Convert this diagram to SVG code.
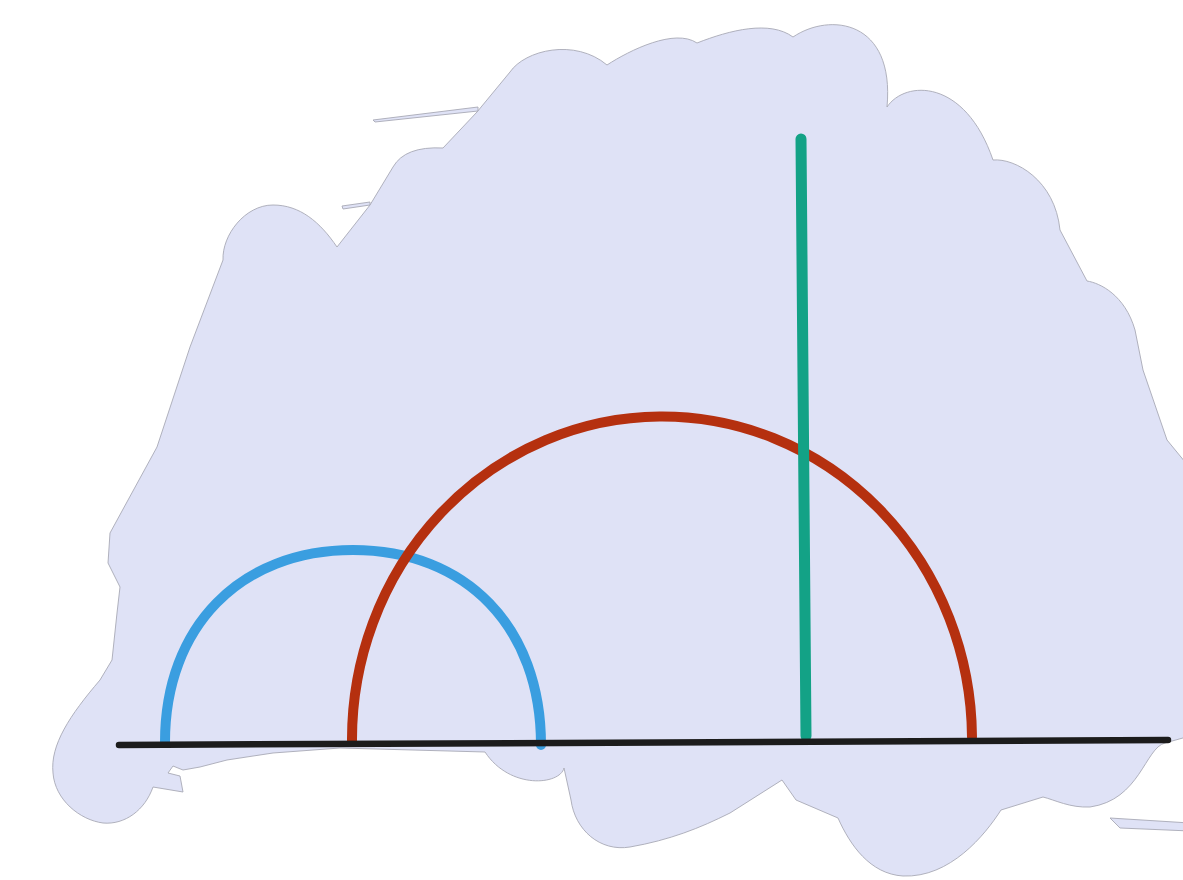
<svg xmlns="http://www.w3.org/2000/svg" width="1183" height="880" viewBox="0 0 1183 880">
  <style>
    .wash { fill: #dfe2f6; stroke: #a8a9b6; stroke-width: 0.9; stroke-linejoin: round; }
    .stroke { fill: none; stroke-linecap: round; stroke-linejoin: round; }
  </style>
  <rect width="1183" height="880" fill="#ffffff"/>
  <g id="background-wash">
    <path class="wash" d="M 53 773 C 50 745, 70 715, 100 680 L 112 660 L 117 613 L 120 587 L 108 563 L 110 533 L 157 447 L 190 347 L 223 260 C 222 235, 245 205, 273 205 C 300 205, 320 222, 337 247 L 370 205 L 393 167 Q 405 146, 443 148 L 477 112 L 510 72 C 525 50, 575 38, 607 65 C 630 50, 675 28, 697 43 C 730 30, 770 20, 793 37 C 830 12, 895 20, 887 107 C 905 80, 965 78, 993 160 C 1015 158, 1055 180, 1060 230 L 1087 281 C 1100 283, 1125 295, 1135 330 L 1143 370 L 1167 440 L 1190 468 L 1190 736 L 1165 743 C 1145 748, 1140 800, 1090 807 C 1070 808, 1055 800, 1043 797 L 1001 810 C 985 835, 950 878, 903 876 C 870 874, 850 845, 838 818 L 796 800 L 782 780 L 730 813 C 700 828, 670 840, 630 847 C 600 852, 575 830, 571 800 L 564 768 C 560 785, 510 790, 485 752 L 340 748 L 273 753 L 227 760 L 200 767 L 183 770 L 173 766 L 168 773 L 180 776 L 183 792 L 153 787 C 145 810, 125 825, 103 823 C 80 820, 55 800, 53 773 Z"/>
    <path class="wash" d="M 373 120 L 478 107 L 478 111 L 375 122 Z"/>
    <path class="wash" d="M 342 206 L 370 202 L 370 205 L 343 209 Z"/>
    <path class="wash" d="M 1110 818 L 1190 823 L 1190 831 L 1120 828 Z"/>
  </g>
  <g id="shapes">
    <path id="blue-arc" class="stroke" stroke="#3a9ee0" stroke-width="10" d="M 165 742 C 165 627, 240 550, 353 550 C 466 550, 541 627, 541 745"/>
    <path id="red-arc" class="stroke" stroke="#b5300f" stroke-width="10" d="M 352 742 A 310 323 0 0 1 972 737"/>
    <line id="green-line" class="stroke" stroke="#13a286" stroke-width="11" x1="801" y1="139" x2="806" y2="736"/>
    <line id="black-line" class="stroke" stroke="#1c1c1c" stroke-width="6.5" x1="119" y1="745" x2="1168" y2="740"/>
  </g>
</svg>
